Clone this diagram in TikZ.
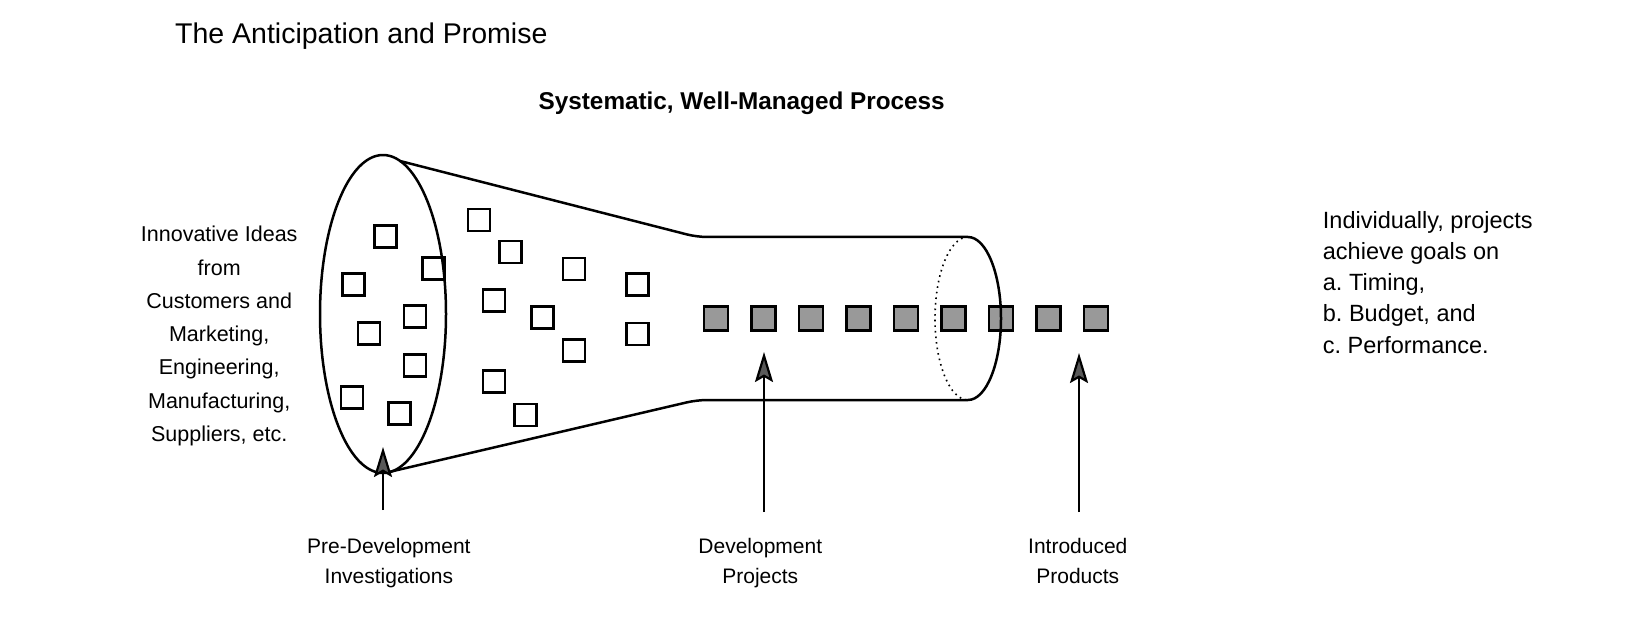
\documentclass[tikz,border=0pt]{standalone}
\usepackage{fontspec}
\setmainfont{Liberation Sans}
\usetikzlibrary{arrows.meta}
\frenchspacing
\begin{document}
\begin{tikzpicture}[x=1pt,y=-1pt,
  outline/.style={line width=2.5pt, line join=round},
  idea/.style={draw, line width=2.8pt, minimum size=22pt, inner sep=0pt},
  proj/.style={draw, line width=2.8pt, fill=black!40, minimum size=24pt, inner sep=0pt},
  pointer/.style={line width=2.2pt, -{Stealth[length=30pt,width=18pt,inset=5pt,fill=black!65]}},
  lbl/.style={font=\fontsize{21}{29.3}\selectfont, align=center, inner sep=0pt},
]
\fill[white] (0,0) rectangle (1638,620);
\useasboundingbox (0,0) rectangle (1638,620);

% hollow idea squares
\foreach \x/\y [count=\i] in {385.3/236.7, 433.3/268.3, 353.3/284.3, 415/316.7, 369/333.3,
  415/365.3, 352/397.7, 399.7/413.7, 479/220, 510.7/252, 494/300.7, 574/269,
  542.3/317.3, 637.7/284.7, 637.7/334, 574/350.3, 494/381.7, 525.7/415}
  \node[idea] (s\i) at (\x,\y) {};

% filled project squares
\foreach \i in {0,...,8}
  \node[proj] (p\i) at (716+47.5*\i,318.5) {};

% funnel outline
\draw[outline] (383,314) ellipse [x radius=63pt, y radius=159pt];
\draw[outline, rounded corners=10pt] (400,161) -- (697,237) -- (968,237);
\draw[outline, rounded corners=10pt] (389,472) -- (697,400) -- (968,400);
\draw[outline] (968,237) .. controls (986.2,237) and (1001,273.5) .. (1001,318.5)
  .. controls (1001,363.5) and (986.2,400) .. (968,400);
\draw[line width=1.6pt, dash pattern=on 1.6pt off 4pt]
  (968,237) .. controls (949.8,237) and (935,273.5) .. (935,318.5)
  .. controls (935,363.5) and (949.8,400) .. (968,400);

% texts
\node[anchor=base west, font=\fontsize{28.5}{34}\selectfont, inner sep=0pt] (title)
  at (175,43.3) {The Anticipation and Promise};
\node[anchor=base, font=\bfseries\fontsize{24.3}{29}\selectfont, inner sep=0pt] (sub)
  at (741.7,110) {Systematic, Well-Managed Process};
\node[font=\fontsize{21.5}{33.3}\selectfont, align=center, inner sep=0pt] (ideas)
  at (219.2,336.1) {Innovative Ideas\\from\\Customers and\\Marketing,\\Engineering,\\Manufacturing,\\Suppliers, etc.};
\node[anchor=west, font=\fontsize{23.5}{31.25}\selectfont, align=left, inner sep=0pt] (goals)
  at (1322.7,282.2) {Individually, projects\\achieve goals on\\a. Timing,\\b. Budget, and\\c. Performance.};

\node[lbl] (l1) at (388.9,563.2) {Pre-Development\\Investigations};
\node[lbl] (l2) at (760.3,563.2) {Development\\Projects};
\node[lbl] (l3) at (1077.8,561.1) {Introduced\\Products};

% arrows
\coordinate (t1) at (383,510); \coordinate (h1) at (383,447);
\coordinate (t2) at (764,512); \coordinate (h2) at (764,352);
\coordinate (t3) at (1079,512); \coordinate (h3) at (1079,353);
\draw[pointer] (t1) -- (h1);
\draw[pointer] (t2) -- (h2);
\draw[pointer] (t3) -- (h3);
\end{tikzpicture}
\end{document}
